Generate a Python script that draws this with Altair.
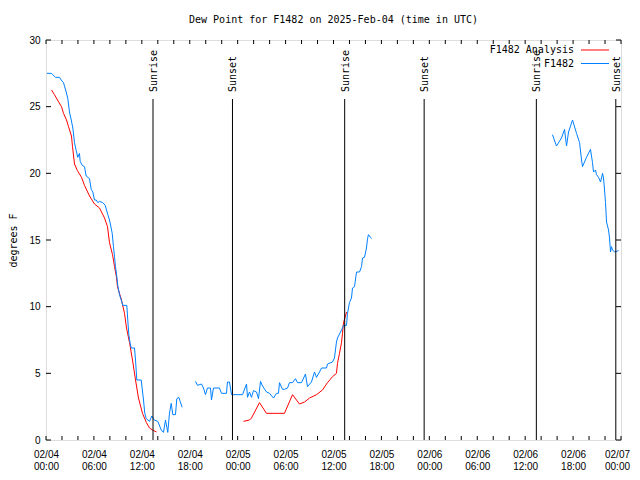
import altair as alt
import pandas as pd

FONT = "DejaVu Sans Mono"

# ---- data: hours since 2025-02-04 00:00 UTC, dew point in degrees F ----
obs_seg1_h = [0.10, 0.65, 0.85, 1.19, 1.69, 1.90, 2.19, 2.53, 2.73, 2.94, 3.16, 3.36, 3.57, 3.78,
              3.98, 4.19, 4.28, 4.53, 4.82, 5.03, 5.45, 5.66, 5.86, 6.07, 6.29, 6.49, 6.70, 7.11,
              7.41, 7.74, 7.95, 8.16, 8.29, 8.45, 8.58, 8.70, 8.87, 8.99, 9.20, 9.42, 9.62, 10.12,
              10.24, 10.37, 10.54, 10.67, 11.08, 11.21, 11.37, 11.92, 12.21, 12.37, 12.55, 12.96,
              13.25, 13.55, 14.00, 14.43, 14.71, 14.96, 15.25, 15.46, 15.68, 15.88, 16.21, 16.38,
              16.63, 16.80, 17.05]
obs_seg1_v = [27.5, 27.5, 27.4, 27.2, 27.2, 27.0, 26.8, 26.1, 25.6, 24.6, 24.0, 23.4, 22.3, 21.7,
              21.2, 21.5, 20.9, 20.6, 20.5, 19.8, 19.6, 18.8, 18.6, 18.0, 18.0, 17.8, 17.9, 17.8,
              17.6, 16.9, 16.5, 15.9, 15.5, 14.5, 13.75, 13.0, 12.25, 11.6, 10.9, 10.5, 10.1, 10.1,
              9.0, 7.9, 7.25, 6.9, 6.9, 6.0, 4.5, 4.5, 3.0, 2.0, 1.6, 1.4,
              1.8, 1.5, 1.4, 0.75, 0.57, 1.5, 0.57, 2.0, 2.75, 1.9, 1.9, 3.1,
              3.2, 2.9, 2.45]

obs_seg2_h = [18.72, 18.97, 19.47, 19.72, 19.97, 20.22, 20.60, 20.72, 20.97, 21.72, 21.97, 22.60,
              22.72, 22.98, 23.23, 24.61, 25.11, 25.23, 25.48, 25.73, 25.98, 26.36, 26.61, 26.86,
              27.11, 27.61, 27.99, 28.49, 28.86, 29.11, 29.24, 29.61, 29.86, 30.24, 30.49, 30.87,
              31.24, 31.49, 31.99, 32.49, 32.74, 33.24, 33.62, 33.87, 34.25, 34.50, 35.12, 35.25,
              35.87, 36.12, 36.37, 36.50, 36.88, 37.13, 37.25, 37.63, 37.75, 38.00, 38.25, 38.38,
              38.63, 38.88, 39.26, 39.51, 39.63, 39.88, 40.13, 40.26, 40.38, 40.63, 40.76]
obs_seg2_v = [4.4, 4.1, 4.2, 3.9, 3.4, 3.9, 3.9, 3.0, 3.9, 3.9, 3.5, 3.5,
              4.35, 4.35, 3.4, 3.4, 4.2, 3.2, 3.6, 3.2, 3.7, 3.6, 3.1, 4.4,
              4.05, 3.6, 3.5, 3.15, 3.5, 3.5, 4.3, 3.8, 3.8, 3.9, 4.3, 4.3,
              4.6, 4.3, 4.3, 4.95, 4.0, 4.35, 5.1, 4.7, 5.1, 5.4, 5.4, 5.7,
              5.85, 6.15, 7.35, 7.65, 8.1, 8.4, 8.6, 8.6, 9.5, 10.3, 10.65, 11.4,
              11.5, 12.6, 12.6, 13.0, 13.65, 13.7, 14.4, 15.1, 15.4, 15.2, 15.1]

obs_seg3_h = [63.42, 63.92, 64.55, 64.93, 65.18, 65.43, 65.93, 66.43, 66.81, 67.06, 67.18, 67.68,
              68.18, 68.43, 68.56, 68.81, 68.93, 69.19, 69.44, 69.69, 69.81, 69.94, 70.06, 70.19,
              70.44, 70.56, 70.69, 70.81, 70.94, 71.19, 71.69]
obs_seg3_v = [22.9, 22.05, 22.65, 23.3, 22.05, 23.1, 24.0, 23.0, 22.3, 21.0, 20.5, 21.2,
              21.8, 20.8, 20.1, 20.25, 19.9, 19.7, 19.35, 20.0, 19.65, 18.75, 17.8, 16.35,
              15.75, 15.15, 14.1, 14.5, 14.25, 14.1, 14.2]

ana_seg1_h = [0.69, 1.06, 1.44, 1.94, 2.19, 2.57, 2.82, 3.19, 3.32, 3.57, 3.94, 4.45, 4.82, 5.45,
              6.07, 6.70, 7.33, 7.70, 7.95, 8.33, 8.58, 8.83, 8.95, 9.45, 9.83, 10.08, 10.46,
              10.83, 11.21, 11.58, 12.08, 12.58, 12.96, 13.33, 13.84]
ana_seg1_v = [26.25, 25.9, 25.5, 25.0, 24.5, 24.0, 23.5, 22.8, 22.0, 20.7, 20.2, 19.7, 19.1, 18.3,
              17.7, 17.4, 16.65, 16.0, 14.8, 13.9, 13.0, 12.2, 11.5, 10.5, 9.5, 8.4, 7.3,
              6.0, 4.5, 3.15, 2.0, 1.3, 0.9, 0.75, 0.6]

ana_seg2_h = [24.73, 25.48, 25.73, 26.73, 27.61, 29.86, 30.87, 31.74, 32.37, 33.00, 33.87, 34.62,
              35.25, 35.87, 36.37, 36.50, 36.75, 37.00, 37.13, 37.25, 37.50, 37.63]
ana_seg2_v = [1.4, 1.5, 1.65, 2.8, 2.0, 2.0, 3.4, 2.7, 2.85, 3.15, 3.4, 3.75,
              4.3, 4.75, 5.0, 5.75, 6.5, 7.3, 8.0, 8.8, 9.3, 9.6]

sun_h = [13.4, 23.35, 37.4, 47.35, 61.4, 71.35]
sun_label = ["Sunrise", "Sunset", "Sunrise", "Sunset", "Sunrise", "Sunset"]

series_names = ["F1482 Analysis", "F1482"]
series_colors = ["#ff0000", "#0080ff"]

title_text = "Dew Point for F1482 on 2025-Feb-04 (time in UTC)"

x_tick_hours = list(range(0, 73, 2))
x_label_hours = list(range(0, 73, 6))
y_ticks = [0, 5, 10, 15, 20, 25, 30]

W, H = 575, 400


def seg_df(hs, vs, name, seg):
    return pd.DataFrame({"h": hs, "v": vs, "series": name, "seg": seg})


obs = pd.concat([seg_df(obs_seg1_h, obs_seg1_v, "F1482", "o1"),
                 seg_df(obs_seg2_h, obs_seg2_v, "F1482", "o2"),
                 seg_df(obs_seg3_h, obs_seg3_v, "F1482", "o3")])
ana = pd.concat([seg_df(ana_seg1_h, ana_seg1_v, "F1482 Analysis", "a1"),
                 seg_df(ana_seg2_h, ana_seg2_v, "F1482 Analysis", "a2")])

xscale = alt.Scale(domain=[0, 72], nice=False, zero=False)
yscale = alt.Scale(domain=[0, 30], nice=False)
cscale = alt.Scale(domain=series_names, range=series_colors)

x_enc = alt.X("h:Q", scale=xscale, axis=alt.Axis(
    values=x_label_hours, ticks=False, domain=False, grid=False, title=None,
    labelExpr="['02/0' + (4 + floor(datum.value / 24)), "
              "((datum.value % 24) < 10 ? '0' : '') + (datum.value % 24) + ':00']",
    labelPadding=9, labelLineHeight=12, labelBaseline="top", labelFlush=False,
    labelOffset={"condition": {"test": "datum.value >= 72", "value": -4}, "value": 0},
    labelOverlap=False))
y_enc = alt.Y("v:Q", scale=yscale, axis=alt.Axis(
    values=y_ticks, ticks=False, domain=False, grid=False, title="degrees F",
    titleFontWeight="normal", titleFont=FONT, titleFontSize=10, titleColor="black",
    labelPadding=6, titlePadding=10, labelFlush=False))

ana_line = alt.Chart(ana).mark_line(strokeWidth=1).encode(
    x=x_enc, y=y_enc,
    color=alt.Color("series:N", scale=cscale, legend=None), detail="seg:N")
obs_line = alt.Chart(obs).mark_line(strokeWidth=1).encode(
    x=alt.X("h:Q", scale=xscale), y=alt.Y("v:Q", scale=yscale),
    color=alt.Color("series:N", scale=cscale, legend=None), detail="seg:N")

sun_df = pd.DataFrame({"h": sun_h, "label": sun_label})
sun_rule = alt.Chart(sun_df).mark_rule(color="black", strokeWidth=1).encode(
    x=alt.X("h:Q", scale=xscale), y=alt.value(59), y2=alt.value(H))
sun_text = alt.Chart(sun_df).mark_text(
    angle=270, align="left", baseline="middle", font=FONT, fontSize=10, color="black", dy=1
).encode(x=alt.X("h:Q", scale=xscale), y=alt.value(52), text="label:N")

xt = pd.DataFrame({"h": x_tick_hours})
xt_bottom = alt.Chart(xt).mark_rule(color="black").encode(
    x=alt.X("h:Q", scale=xscale), y=alt.value(H), y2=alt.value(H - 4))
xt_top = alt.Chart(xt).mark_rule(color="black").encode(
    x=alt.X("h:Q", scale=xscale), y=alt.value(0), y2=alt.value(4))
yt = pd.DataFrame({"v": y_ticks})
yt_left = alt.Chart(yt).mark_rule(color="black").encode(
    y=alt.Y("v:Q", scale=yscale), x=alt.value(0), x2=alt.value(5))
yt_right = alt.Chart(yt).mark_rule(color="black").encode(
    y=alt.Y("v:Q", scale=yscale), x=alt.value(W), x2=alt.value(W - 5))

title_mark = alt.Chart(pd.DataFrame({"t": [title_text]})).mark_text(
    align="center", baseline="middle", font=FONT, fontSize=10, color="black"
).encode(text="t:N", x=alt.value(W / 2), y=alt.value(-20))

leg_layers = []
for i, (name, col) in enumerate(zip(series_names, series_colors)):
    ld = pd.DataFrame({"label": [name], "c": [col]})
    yy = 10 + 13.5 * i
    leg_layers.append(alt.Chart(ld).mark_text(
        align="right", baseline="middle", font=FONT, fontSize=10, color="black"
    ).encode(text="label:N", x=alt.value(528), y=alt.value(yy)))
    leg_layers.append(alt.Chart(ld).mark_rule(strokeWidth=1).encode(
        x=alt.value(535), x2=alt.value(563), y=alt.value(yy),
        color=alt.Color("c:N", scale=None)))

chart = alt.layer(
    ana_line, obs_line, sun_rule, sun_text, xt_bottom, xt_top, yt_left, yt_right,
    title_mark, *leg_layers
).properties(
    width=W, height=H,
    autosize=alt.AutoSizeParams(type="none"),
    padding={"left": 38, "top": 32, "right": 11, "bottom": 30},
).configure_view(stroke="black", strokeWidth=1).configure_axis(
    labelFont=FONT, labelFontSize=10, labelColor="black",
    titleFont=FONT, titleFontSize=10, titleFontWeight="normal", titleColor="black"
).configure(background="white")

chart.save("out.html", embed_options={"renderer": "svg", "actions": False})
